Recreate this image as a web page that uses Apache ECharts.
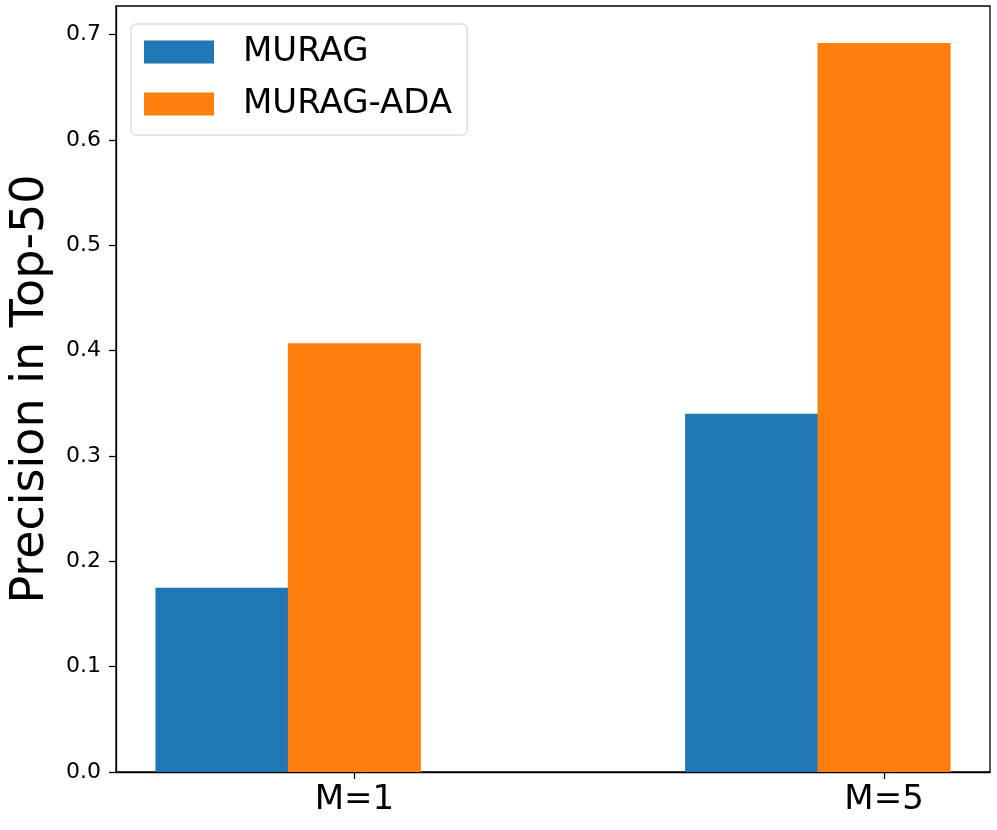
<!DOCTYPE html>
<html>
<head>
<meta charset="utf-8">
<script src="https://cdn.jsdelivr.net/npm/echarts@6/dist/echarts.min.js"></script>
<style>
html,body{margin:0;padding:0;background:#fff;}
#chart{width:997px;height:830px;}
</style>
</head>
<body>
<div id="chart"></div>
<script>
const categories = ['M=1', 'M=5'];
const seriesNames = ['MURAG', 'MURAG-ADA'];
const muragValues = [0.175, 0.340];
const muragAdaValues = [0.407, 0.692];
const yTickValues = [0, 0.1, 0.2, 0.3, 0.4, 0.5, 0.6, 0.7];
const xTickValues = [0, 1];

const FONT = 'DejaVu Sans';
const chart = echarts.init(document.getElementById('chart'), null, {renderer: 'canvas'});

const option = {
  animation: false,
  backgroundColor: '#fff',
  grid: {
    left: 113, right: 7, top: 6, bottom: 58,
    show: true, borderColor: '#000', borderWidth: 1.3, backgroundColor: 'transparent'
  },
  legend: {
    orient: 'vertical',
    left: 131, top: 24,
    data: seriesNames,
    icon: 'rect',
    itemWidth: 70, itemHeight: 23, itemGap: 18,
    padding: [11, 15, 14, 13],
    backgroundColor: '#fff',
    borderColor: '#cccccc', borderWidth: 1, borderRadius: 5,
    textStyle: {fontFamily: FONT, fontSize: 34, color: '#000', lineHeight: 33, padding: [0, 0, 0, 24]}
  },
  xAxis: {
    type: 'value',
    min: -0.45, max: 1.2,
    splitLine: {show: false},
    axisLine: {show: true, onZero: false, lineStyle: {color: '#000', width: 1.3}},
    axisTick: {show: true, length: 7, lineStyle: {color: '#000', width: 1.3}, customValues: xTickValues},
    axisLabel: {
      customValues: xTickValues,
      formatter: v => categories[Math.round(v)],
      fontFamily: FONT, fontSize: 34, color: '#000', margin: 11
    }
  },
  yAxis: {
    type: 'value',
    min: 0, max: 0.7272,
    name: 'Precision in Top-50',
    nameLocation: 'middle',
    nameGap: 62,
    nameTextStyle: {fontFamily: FONT, fontSize: 46, color: '#000'},
    splitLine: {show: false},
    axisLine: {show: true, onZero: false, lineStyle: {color: '#000', width: 1.3}},
    axisTick: {show: true, length: 7, lineStyle: {color: '#000', width: 1.3}, customValues: yTickValues},
    axisLabel: {
      customValues: yTickValues,
      formatter: v => v.toFixed(1),
      fontFamily: FONT, fontSize: 22, color: '#000', margin: 15
    }
  },
  series: [
    {
      name: seriesNames[0], type: 'bar',
      barWidth: 133, barGap: '-100%',
      itemStyle: {color: '#1f77b4'},
      data: muragValues.map((v, i) => [xTickValues[i] - 0.25, v])
    },
    {
      name: seriesNames[1], type: 'bar',
      barWidth: 133, barGap: '-100%',
      itemStyle: {color: '#ff7f0e'},
      data: muragAdaValues.map((v, i) => [xTickValues[i], v])
    }
  ]
};
chart.setOption(option);
</script>
</body>
</html>
